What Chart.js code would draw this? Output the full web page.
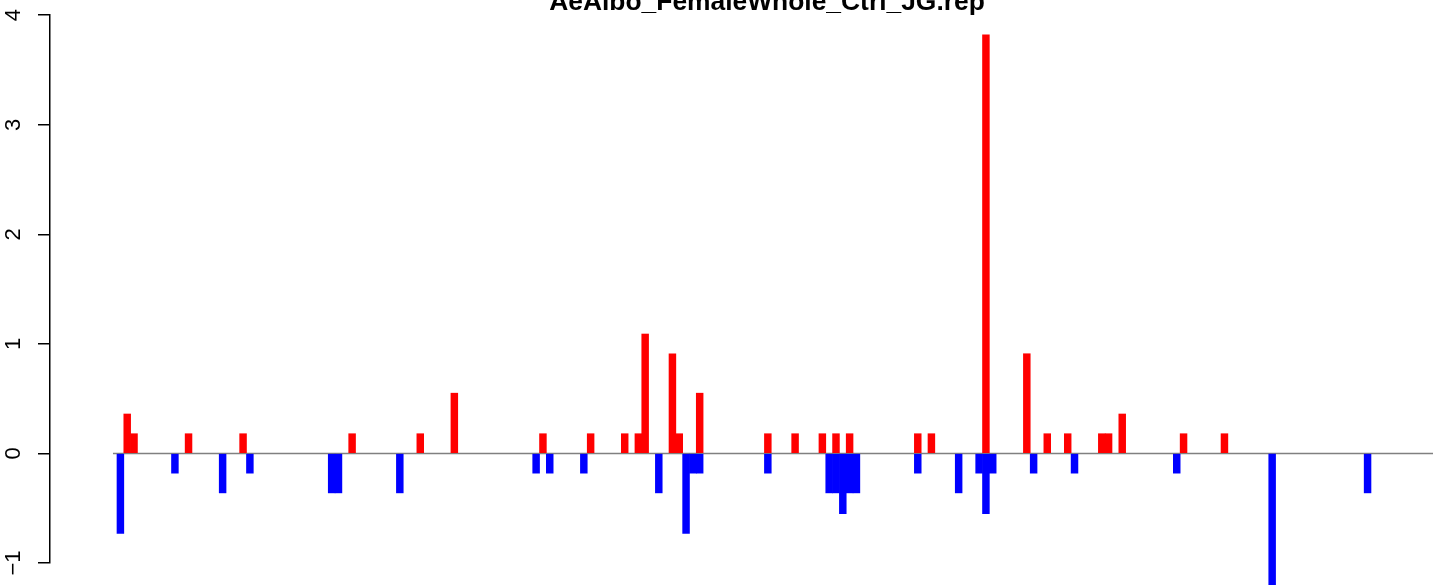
<!DOCTYPE html>
<html lang="en">
<head>
    <meta charset="UTF-8">
    <title>AeAlbo_FemaleWhole_Ctrl_JG.rep</title>
    <script src="https://cdn.jsdelivr.net/npm/chart.js"></script>
    <style>
        html, body { margin: 0; padding: 0; background: #fff; overflow: hidden; }
        body { width: 1444px; height: 585px; position: relative; }
        .chart-box { position: absolute; left: 0; top: -10px; width: 1534px; height: 603px; }
    </style>
</head>
<body>
    <div class="chart-box">
        <canvas id="repChart"></canvas>
    </div>

    <script>
        // positions along the genome (bar slot index) and values
        const upSlots = [1, 2, 10, 18, 34, 44, 49, 62, 69, 74, 76, 77, 81, 82, 85, 95, 99, 103, 105, 107,
                         117, 119, 127, 133, 136, 139, 144, 145, 147, 156, 162];
        const upValues = [0.36, 0.18, 0.18, 0.18, 0.18, 0.18, 0.55, 0.18, 0.18, 0.18, 0.18, 1.09, 0.91, 0.18, 0.55, 0.18, 0.18, 0.18, 0.18, 0.18,
                          0.18, 0.18, 3.82, 0.91, 0.18, 0.18, 0.18, 0.18, 0.36, 0.18, 0.18];

        const downSlots = [0, 8, 15, 19, 31, 32, 41, 61, 63, 68, 79, 83, 84, 85, 95, 104, 105, 106, 107, 108,
                           117, 123, 126, 127, 128, 134, 140, 155, 169, 183];
        const downValues = [-0.73, -0.18, -0.36, -0.18, -0.36, -0.36, -0.36, -0.18, -0.18, -0.18, -0.36, -0.73, -0.18, -0.18, -0.18, -0.36, -0.36, -0.55, -0.36, -0.36,
                            -0.18, -0.36, -0.18, -0.55, -0.18, -0.18, -0.18, -0.18, -1.27, -0.36];

        const yTicks = [-1, 0, 1, 2, 3, 4];
        const baseStart = -1.09;
        const baseEnd = 192.6;

        const toPoints = (xs, ys) => xs.map((x, i) => ({ x: x, y: ys[i] }));

        const ctx = document.getElementById('repChart').getContext('2d');
        const repChart = new Chart(ctx, {
            type: 'bar',
            data: {
                datasets: [
                    {
                        label: 'up',
                        data: toPoints(upSlots, upValues),
                        backgroundColor: '#ff0000',
                        borderWidth: 0,
                        barPercentage: 1,
                        categoryPercentage: 1,
                        clip: false,
                        order: 1
                    },
                    {
                        label: 'down',
                        data: toPoints(downSlots, downValues),
                        backgroundColor: '#0000ff',
                        borderWidth: 0,
                        barPercentage: 1,
                        categoryPercentage: 1,
                        clip: false,
                        order: 1
                    },
                    {
                        type: 'line',
                        label: 'zero',
                        data: [{ x: baseStart, y: 0 }, { x: baseEnd, y: 0 }],
                        borderColor: '#808080',
                        borderWidth: 1.5,
                        pointRadius: 0,
                        order: 2
                    }
                ]
            },
            options: {
                responsive: true,
                maintainAspectRatio: false,
                devicePixelRatio: 1,
                animation: false,
                layout: { padding: { left: 0, right: 0, top: 0, bottom: 30 } },
                plugins: {
                    legend: { display: false },
                    tooltip: { enabled: false },
                    title: {
                        display: true,
                        text: 'AeAlbo_FemaleWhole_Ctrl_JG.rep',
                        color: '#000',
                        font: { family: "'Liberation Sans', Arial, sans-serif", size: 26.4, weight: 'bold', lineHeight: 0.9 },
                        padding: { top: 0, bottom: 1 }
                    }
                },
                scales: {
                    x: {
                        type: 'linear',
                        display: false,
                        stacked: true,
                        min: -10.33,
                        max: 207.42,
                        afterBuildTicks: (scale) => { scale.ticks = []; }
                    },
                    y: {
                        min: -1,
                        max: 4,
                        afterBuildTicks: (scale) => { scale.ticks = yTicks.map(v => ({ value: v })); },
                        afterFit: (scale) => { scale.width = 50; },
                        border: { display: true, color: '#000', width: 1.5 },
                        grid: { drawOnChartArea: false, drawTicks: true, tickLength: 12, color: '#000', lineWidth: 1.5 },
                        ticks: {
                            minRotation: 90,
                            maxRotation: 90,
                            crossAlign: 'center',
                            padding: 12,
                            color: '#000',
                            font: { family: "'Liberation Sans', Arial, sans-serif", size: 22 },
                            callback: (v) => v < 0 ? '\u2212' + Math.abs(v) : String(v)
                        }
                    }
                }
            }
        });
    </script>
</body>
</html>
